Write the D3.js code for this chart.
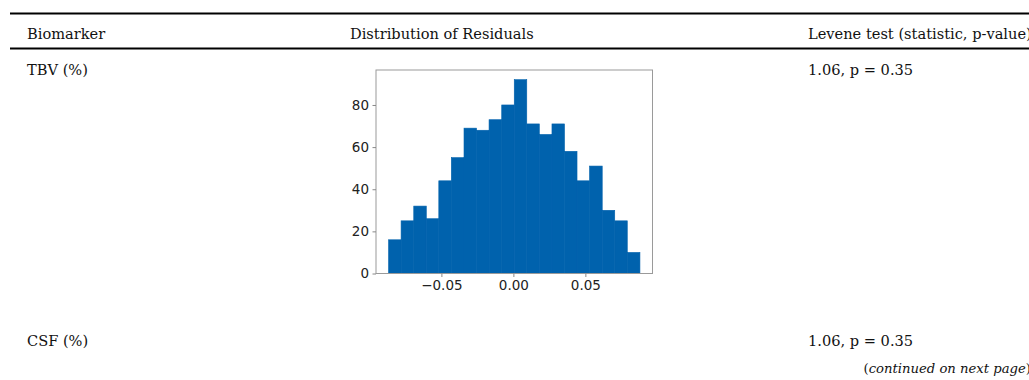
<!DOCTYPE html>
<html>
<head>
<meta charset="utf-8">
<script src="https://cdn.jsdelivr.net/npm/d3@7"></script>
<style>
  body { margin: 0; background: #fff; overflow: hidden; }
  .cell { font-family: "DejaVu Serif", serif; font-size: 14.6px; fill: #111; }
  .note { font-family: "DejaVu Serif", serif; font-size: 13.2px; fill: #111; }
  .axis text { font-family: "DejaVu Sans", sans-serif; font-size: 13.5px; fill: #222; }
  .axis line { stroke: #888; }
  .axis path { display: none; }
</style>
</head>
<body>
<script>
const width = 1029;
const height = 380;

// table text
const headers = ["Biomarker", "Distribution of Residuals", "Levene test (statistic, p-value)"];
const rowNames = ["TBV (%)", "CSF (%)"];
const leveneValues = ["1.06, p = 0.35", "1.06, p = 0.35"];

// histogram of TBV residuals
const binEdges = [-0.0867, -0.0780, -0.0692, -0.0605, -0.0518, -0.0431, -0.0343, -0.0256, -0.0169, -0.0081,
  0.0006, 0.0093, 0.0180, 0.0268, 0.0355, 0.0442, 0.0529, 0.0617, 0.0704, 0.0791, 0.0879];
const binCounts = [16, 25, 32, 26, 44, 55, 69, 68, 73, 80, 92, 71, 66, 71, 58, 44, 51, 30, 25, 10];
const xTicks = [-0.05, 0, 0.05];
const yTicks = [0, 20, 40, 60, 80];

const svg = d3.select("body")
  .append("svg")
  .attr("width", width)
  .attr("height", height);

// table rules
svg.append("line")
  .attr("x1", 10).attr("x2", width)
  .attr("y1", 13.5).attr("y2", 13.5)
  .attr("stroke", "#000").attr("stroke-width", 1.8);

svg.append("line")
  .attr("x1", 10).attr("x2", width)
  .attr("y1", 48.5).attr("y2", 48.5)
  .attr("stroke", "#000").attr("stroke-width", 1.8);

const colX = [27, 350, 808];

svg.selectAll("text.header")
  .data(headers)
  .enter().append("text")
  .attr("class", "cell header")
  .attr("x", (d, i) => colX[i])
  .attr("y", 39)
  .text(d => d);

const rowY = [75, 346];

svg.selectAll("text.rowname")
  .data(rowNames)
  .enter().append("text")
  .attr("class", "cell rowname")
  .attr("x", colX[0])
  .attr("y", (d, i) => rowY[i])
  .text(d => d);

svg.selectAll("text.levene")
  .data(leveneValues)
  .enter().append("text")
  .attr("class", "cell levene")
  .attr("x", colX[2])
  .attr("y", (d, i) => rowY[i])
  .text(d => d);

// footnote, runs just past the right edge like the scan
const cont = svg.append("text")
  .attr("class", "note")
  .attr("x", 1031)
  .attr("y", 373)
  .attr("text-anchor", "end");
cont.append("tspan").text("(");
cont.append("tspan").style("font-style", "italic").text("continued on next page");
cont.append("tspan").text(")");

// histogram
const xMin = binEdges[0], xMax = binEdges[binEdges.length - 1];
const xPad = (xMax - xMin) * 0.05;
const x = d3.scaleLinear()
  .domain([xMin - xPad, xMax + xPad])
  .range([376, 652.5]);

const y = d3.scaleLinear()
  .domain([0, d3.max(binCounts) * 1.05])
  .range([273.5, 70]);

const plot = svg.append("g").attr("id", "histogram");

plot.selectAll("rect.bar")
  .data(binCounts)
  .enter().append("rect")
  .attr("class", "bar")
  .attr("x", (d, i) => x(binEdges[i]))
  .attr("width", (d, i) => x(binEdges[i + 1]) - x(binEdges[i]))
  .attr("y", d => y(d))
  .attr("height", d => y(0) - y(d))
  .attr("fill", "#0062ad")
  .attr("stroke", "#0062ad")
  .attr("stroke-width", 0.6);

plot.append("rect")
  .attr("x", x.range()[0])
  .attr("y", y.range()[1])
  .attr("width", x.range()[1] - x.range()[0])
  .attr("height", y.range()[0] - y.range()[1])
  .attr("fill", "none")
  .attr("stroke", "#9a9a9a")
  .attr("stroke-width", 1);

plot.append("g")
  .attr("class", "axis")
  .attr("transform", `translate(0,${y.range()[0]})`)
  .call(d3.axisBottom(x).tickValues(xTicks).tickSize(3.5).tickPadding(3).tickFormat(d3.format(".2f")));

plot.append("g")
  .attr("class", "axis")
  .attr("transform", `translate(${x.range()[0]},0)`)
  .call(d3.axisLeft(y).tickValues(yTicks).tickSize(3.5).tickPadding(3.5));
</script>
</body>
</html>
